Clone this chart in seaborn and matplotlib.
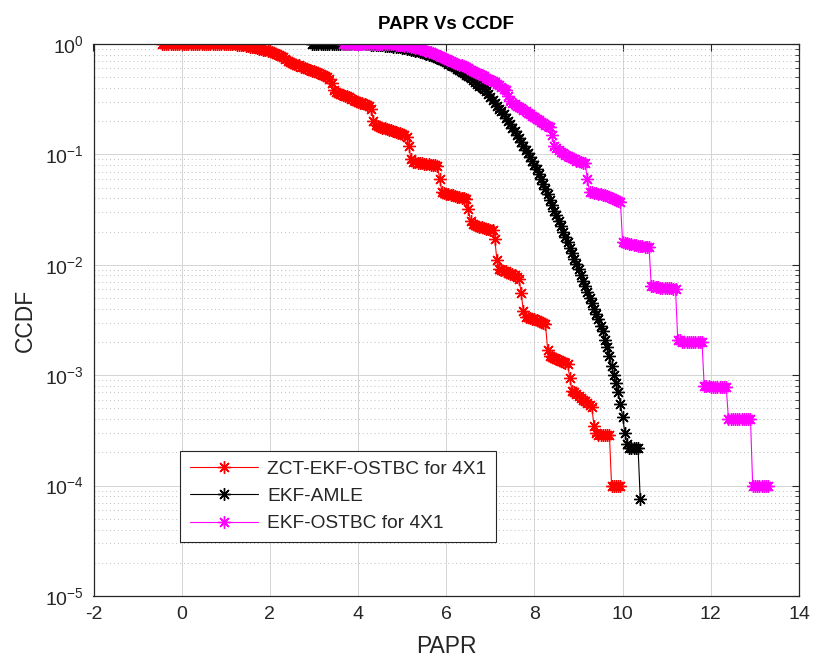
import matplotlib
matplotlib.use("Agg")
import matplotlib.pyplot as plt
import pandas as pd
import seaborn as sns
from matplotlib.ticker import LogLocator, NullFormatter, FixedLocator
from matplotlib.lines import Line2D

# ---------------- data ----------------
series_labels = ["ZCT-EKF-OSTBC for 4X1", "EKF-AMLE", "EKF-OSTBC for 4X1"]
series_colors = ["#FF0000", "#000000", "#FF00FF"]

zct_papr = [-0.45, -0.40, -0.35, -0.30, -0.25, -0.20, -0.15, -0.10, -0.05, 0.00,
            0.05, 0.10, 0.15, 0.20, 0.25, 0.30, 0.35, 0.40, 0.45, 0.50,
            0.55, 0.60, 0.65, 0.70, 0.75, 0.80, 0.85, 0.90, 0.95, 1.00,
            1.05, 1.10, 1.15, 1.20, 1.25, 1.30, 1.35, 1.40, 1.45, 1.50,
            1.55, 1.60, 1.65, 1.70, 1.75, 1.80, 1.85, 1.90, 1.95, 2.00,
            2.05, 2.10, 2.15, 2.20, 2.25, 2.30, 2.35, 2.40, 2.45, 2.50,
            2.55, 2.60, 2.65, 2.70, 2.75, 2.80, 2.85, 2.90, 2.95, 3.00,
            3.05, 3.10, 3.15, 3.20, 3.25, 3.30, 3.35, 3.40, 3.45, 3.50,
            3.55, 3.60, 3.65, 3.70, 3.75, 3.80, 3.85, 3.90, 3.95, 4.00,
            4.05, 4.10, 4.15, 4.20, 4.25, 4.30, 4.35, 4.40, 4.45, 4.50,
            4.55, 4.60, 4.65, 4.70, 4.75, 4.80, 4.85, 4.90, 4.95, 5.00,
            5.05, 5.10, 5.15, 5.20, 5.25, 5.30, 5.35, 5.40, 5.45, 5.50,
            5.55, 5.60, 5.65, 5.70, 5.75, 5.80, 5.85, 5.90, 5.95, 6.00,
            6.05, 6.10, 6.15, 6.20, 6.25, 6.30, 6.35, 6.40, 6.45, 6.50,
            6.55, 6.60, 6.65, 6.70, 6.75, 6.80, 6.85, 6.90, 6.95, 7.00,
            7.05, 7.10, 7.15, 7.20, 7.25, 7.30, 7.35, 7.40, 7.45, 7.50,
            7.55, 7.60, 7.65, 7.70, 7.75, 7.80, 7.85, 7.90, 7.95, 8.00,
            8.05, 8.10, 8.15, 8.20, 8.25, 8.30, 8.35, 8.40, 8.45, 8.50,
            8.55, 8.60, 8.65, 8.70, 8.75, 8.80, 8.85, 8.90, 8.95, 9.00,
            9.05, 9.10, 9.15, 9.20, 9.25, 9.30, 9.35, 9.40, 9.45, 9.50,
            9.55, 9.60, 9.65, 9.70, 9.75, 9.80, 9.85, 9.90, 9.95]
zct_ccdf = [1, 1, 1, 1, 1, 1, 1, 1, 1, 1,
            1, 1, 1, 1, 1, 1, 1, 1, 1, 1,
            1, 1, 1, 1, 1, 1, 1, 1, 1, 1,
            1.0, 0.997, 0.994, 0.99, 0.985, 0.98, 0.975, 0.97, 0.963, 0.955,
            0.948, 0.94, 0.93, 0.92, 0.91, 0.90, 0.89, 0.88, 0.87, 0.86,
            0.845, 0.83, 0.81, 0.79, 0.775, 0.76, 0.73, 0.70, 0.68, 0.67,
            0.66, 0.65, 0.64, 0.625, 0.615, 0.605, 0.595, 0.585, 0.575, 0.565,
            0.555, 0.545, 0.535, 0.525, 0.515, 0.50, 0.48, 0.44, 0.38, 0.365,
            0.36, 0.35, 0.345, 0.34, 0.335, 0.33, 0.32, 0.31, 0.305, 0.30,
            0.295, 0.29, 0.285, 0.28, 0.275, 0.26, 0.2, 0.185, 0.18, 0.178,
            0.175, 0.172, 0.17, 0.168, 0.165, 0.162, 0.16, 0.157, 0.155, 0.152,
            0.15, 0.145, 0.12, 0.09, 0.085, 0.0845, 0.084, 0.0835, 0.083, 0.0825,
            0.082, 0.0815, 0.081, 0.0805, 0.08, 0.079, 0.06, 0.046, 0.0445, 0.044,
            0.0435, 0.043, 0.0425, 0.042, 0.0415, 0.041, 0.0405, 0.04, 0.0395, 0.032,
            0.025, 0.0235, 0.023, 0.0225, 0.022, 0.0218, 0.0215, 0.0212, 0.021, 0.0208,
            0.0205, 0.017, 0.011, 0.0092, 0.009, 0.0088, 0.0087, 0.0085, 0.0083, 0.0082,
            0.008, 0.0078, 0.0075, 0.0055, 0.0038, 0.0034, 0.00335, 0.0033, 0.00325, 0.0032,
            0.00315, 0.0031, 0.00305, 0.003, 0.0029, 0.0017, 0.00148, 0.00145, 0.00142, 0.0014,
            0.00138, 0.00135, 0.00132, 0.0013, 0.00127, 0.00095, 0.00072, 0.0007, 0.00068, 0.00065,
            0.00062, 0.0006, 0.00058, 0.00056, 0.00054, 0.00052, 0.00035, 0.0003, 0.00029, 0.00029,
            0.00029, 0.00029, 0.00029, 0.00029, 0.0001, 0.0001, 0.0001, 0.0001, 0.0001]

amle_papr = [2.95, 3.00, 3.05, 3.10, 3.15, 3.20, 3.25, 3.30, 3.35, 3.40,
             3.45, 3.50, 3.55, 3.60, 3.65, 3.70, 3.75, 3.80, 3.85, 3.90,
             3.95, 4.00, 4.05, 4.10, 4.15, 4.20, 4.25, 4.30, 4.35, 4.40,
             4.45, 4.50, 4.55, 4.60, 4.65, 4.70, 4.75, 4.80, 4.85, 4.90,
             4.95, 5.00, 5.05, 5.10, 5.15, 5.20, 5.25, 5.30, 5.35, 5.40,
             5.45, 5.50, 5.55, 5.60, 5.65, 5.70, 5.75, 5.80, 5.85, 5.90,
             5.95, 6.00, 6.05, 6.10, 6.15, 6.20, 6.25, 6.30, 6.35, 6.40,
             6.45, 6.50, 6.55, 6.60, 6.65, 6.70, 6.75, 6.80, 6.85, 6.90,
             6.95, 7.00, 7.05, 7.10, 7.15, 7.20, 7.25, 7.30, 7.35, 7.40,
             7.45, 7.50, 7.55, 7.60, 7.65, 7.70, 7.75, 7.80, 7.85, 7.90,
             7.95, 8.00, 8.05, 8.10, 8.15, 8.20, 8.25, 8.30, 8.35, 8.40,
             8.45, 8.50, 8.55, 8.60, 8.65, 8.70, 8.75, 8.80, 8.85, 8.90,
             8.95, 9.00, 9.05, 9.10, 9.15, 9.20, 9.25, 9.30, 9.35, 9.40,
             9.45, 9.50, 9.55, 9.60, 9.65, 9.70, 9.75, 9.80, 9.85, 9.90,
             9.95, 10.00, 10.05, 10.10, 10.15, 10.20, 10.25, 10.30, 10.35, 10.40]
amle_ccdf = [1, 1, 1, 1, 1, 1, 1, 1, 1, 1,
             1, 1, 1, 1, 1, 1, 1, 1, 1, 1,
             0.999, 0.998, 0.997, 0.996, 0.995, 0.993, 0.991, 0.989, 0.986, 0.983,
             0.98, 0.977, 0.973, 0.969, 0.965, 0.96, 0.955, 0.949, 0.943, 0.936,
             0.93, 0.922, 0.915, 0.907, 0.9, 0.89, 0.88, 0.87, 0.86, 0.85,
             0.84, 0.825, 0.81, 0.8, 0.79, 0.775, 0.76, 0.745, 0.73, 0.715,
             0.7, 0.683, 0.665, 0.648, 0.63, 0.613, 0.595, 0.578, 0.56, 0.543,
             0.525, 0.508, 0.49, 0.472, 0.455, 0.437, 0.42, 0.405, 0.39, 0.375,
             0.35, 0.33, 0.31, 0.29, 0.275, 0.26, 0.245, 0.23, 0.215, 0.2,
             0.19, 0.175, 0.162, 0.15, 0.14, 0.13, 0.12, 0.11, 0.103, 0.095,
             0.088, 0.08, 0.073, 0.066, 0.06, 0.054, 0.049, 0.044, 0.039, 0.035,
             0.031, 0.028, 0.025, 0.0225, 0.02, 0.018, 0.016, 0.0143, 0.0128, 0.0114,
             0.0102, 0.0091, 0.0081, 0.0072, 0.0064, 0.0057, 0.005, 0.0045, 0.004, 0.0036,
             0.0032, 0.0028, 0.0025, 0.0021, 0.0018, 0.0015, 0.0012, 0.001, 0.00085, 0.0007,
             0.00055, 0.00042, 0.0003, 0.00024, 0.00022, 0.00022, 0.00022, 0.00022, 0.00022, 0.000075]

ostbc_papr = [3.65, 3.70, 3.75, 3.80, 3.85, 3.90, 3.95, 4.00, 4.05, 4.10,
              4.15, 4.20, 4.25, 4.30, 4.35, 4.40, 4.45, 4.50, 4.55, 4.60,
              4.65, 4.70, 4.75, 4.80, 4.85, 4.90, 4.95, 5.00, 5.05, 5.10,
              5.15, 5.20, 5.25, 5.30, 5.35, 5.40, 5.45, 5.50, 5.55, 5.60,
              5.65, 5.70, 5.75, 5.80, 5.85, 5.90, 5.95, 6.00, 6.05, 6.10,
              6.15, 6.20, 6.25, 6.30, 6.35, 6.40, 6.45, 6.50, 6.55, 6.60,
              6.65, 6.70, 6.75, 6.80, 6.85, 6.90, 6.95, 7.00, 7.05, 7.10,
              7.15, 7.20, 7.25, 7.30, 7.35, 7.40, 7.45, 7.50, 7.55, 7.60,
              7.65, 7.70, 7.75, 7.80, 7.85, 7.90, 7.95, 8.00, 8.05, 8.10,
              8.15, 8.20, 8.25, 8.30, 8.35, 8.40, 8.45, 8.50, 8.55, 8.60,
              8.65, 8.70, 8.75, 8.80, 8.85, 8.90, 8.95, 9.00, 9.05, 9.10,
              9.15, 9.20, 9.25, 9.30, 9.35, 9.40, 9.45, 9.50, 9.55, 9.60,
              9.65, 9.70, 9.75, 9.80, 9.85, 9.90, 9.95, 10.00, 10.05, 10.10,
              10.15, 10.20, 10.25, 10.30, 10.35, 10.40, 10.45, 10.50, 10.55, 10.60,
              10.65, 10.70, 10.75, 10.80, 10.85, 10.90, 10.95, 11.00, 11.05, 11.10,
              11.15, 11.20, 11.25, 11.30, 11.35, 11.40, 11.45, 11.50, 11.55, 11.60,
              11.65, 11.70, 11.75, 11.80, 11.85, 11.90, 11.95, 12.00, 12.05, 12.10,
              12.15, 12.20, 12.25, 12.30, 12.35, 12.40, 12.45, 12.50, 12.55, 12.60,
              12.65, 12.70, 12.75, 12.80, 12.85, 12.90, 12.95, 13.00, 13.05, 13.10,
              13.15, 13.20, 13.25, 13.30]
ostbc_ccdf = [1, 1, 1, 1, 1, 1, 1, 1, 1, 1,
              1, 1, 1, 1, 1, 1, 1, 1, 1, 1,
              0.998, 0.996, 0.994, 0.991, 0.988, 0.984, 0.98, 0.975, 0.968, 0.96,
              0.952, 0.944, 0.935, 0.925, 0.915, 0.904, 0.892, 0.88, 0.866, 0.852,
              0.838, 0.823, 0.808, 0.793, 0.778, 0.762, 0.747, 0.732, 0.717, 0.702,
              0.69, 0.678, 0.665, 0.652, 0.64, 0.627, 0.613, 0.6, 0.587, 0.575,
              0.562, 0.55, 0.536, 0.522, 0.509, 0.497, 0.485, 0.473, 0.461, 0.449,
              0.436, 0.422, 0.408, 0.395, 0.383, 0.34, 0.305, 0.295, 0.285, 0.277,
              0.27, 0.262, 0.254, 0.246, 0.238, 0.231, 0.224, 0.217, 0.21, 0.204,
              0.198, 0.192, 0.186, 0.181, 0.176, 0.15, 0.12, 0.114, 0.109, 0.105,
              0.102, 0.099, 0.096, 0.094, 0.092, 0.09, 0.088, 0.087, 0.085, 0.084,
              0.083, 0.06, 0.046, 0.0455, 0.045, 0.0445, 0.044, 0.0435, 0.043, 0.0425,
              0.042, 0.041, 0.0405, 0.0398, 0.039, 0.038, 0.037, 0.016, 0.0158, 0.0156,
              0.0155, 0.0153, 0.0152, 0.015, 0.0149, 0.0148, 0.0147, 0.0146, 0.0145, 0.0144,
              0.0064, 0.0064, 0.0063, 0.0063, 0.0062, 0.0062, 0.0062, 0.0061, 0.0061, 0.0061,
              0.006, 0.006, 0.0021, 0.0021, 0.002, 0.002, 0.002, 0.002, 0.002, 0.002,
              0.002, 0.002, 0.002, 0.002, 0.0008, 0.0008, 0.0008, 0.00079, 0.00079, 0.00079,
              0.00079, 0.00078, 0.00078, 0.00078, 0.00078, 0.0004, 0.0004, 0.0004, 0.0004, 0.0004,
              0.0004, 0.0004, 0.0004, 0.0004, 0.0004, 0.0004, 0.0001, 0.0001, 0.0001, 0.0001,
              0.0001, 0.0001, 0.0001, 0.0001]

x_ticks = [-2, 0, 2, 4, 6, 8, 10, 12, 14]
y_ticks = [1e-5, 1e-4, 1e-3, 1e-2, 1e-1, 1e0]

# ---------------- build table ----------------
frames = []
for lab, xs, ys in zip(series_labels,
                       [zct_papr, amle_papr, ostbc_papr],
                       [zct_ccdf, amle_ccdf, ostbc_ccdf]):
    frames.append(pd.DataFrame({"PAPR": xs, "CCDF": ys, "Scheme": lab}))
df = pd.concat(frames, ignore_index=True)

# ---------------- style ----------------
sns.set_theme(style="white")
plt.rcParams["font.family"] = ["Liberation Sans", "DejaVu Sans"]
plt.rcParams["mathtext.fontset"] = "custom"
plt.rcParams["mathtext.rm"] = "Liberation Sans"
plt.rcParams["mathtext.it"] = "Liberation Sans"
plt.rcParams["mathtext.bf"] = "Liberation Sans:bold"
plt.rcParams["axes.unicode_minus"] = False

W, H = 816, 664
fig = plt.figure(figsize=(W / 100, H / 100), dpi=100)
L, R, T, B = 93.5, 799, 44, 596
ax = fig.add_axes([L / W, 1 - B / H, (R - L) / W, (B - T) / H])

palette = dict(zip(series_labels, series_colors))
asterisk = (8, 2, 0)
sns.lineplot(data=df, x="PAPR", y="CCDF", hue="Scheme", hue_order=series_labels,
             palette=palette, estimator=None, sort=False, marker=asterisk,
             markersize=9, linewidth=0.8, legend=False, ax=ax)

for line in ax.get_lines():
    c = line.get_color()
    line.set_markeredgecolor(c)
    line.set_markerfacecolor(c)
    line.set_markeredgewidth(1.0)

ax.set_yscale("log")
ax.set_xlim(-2, 14)
ax.set_ylim(1e-5, 1)
ax.xaxis.set_major_locator(FixedLocator(x_ticks))
ax.yaxis.set_major_locator(FixedLocator(y_ticks))
ax.yaxis.set_minor_locator(LogLocator(base=10, subs=range(2, 10)))
ax.yaxis.set_minor_formatter(NullFormatter())

ax.grid(True, which="major", axis="both", color="#d4d4d4", linewidth=0.7, linestyle="-")
ax.grid(True, which="minor", axis="y", color="#bdbdbd", linewidth=0.7, linestyle=(0, (1, 3)))
ax.set_axisbelow(True)

for s in ax.spines.values():
    s.set_visible(True)
    s.set_color("#262626")
    s.set_linewidth(0.9)

ax.tick_params(which="both", direction="in", top=True, right=True, colors="#262626",
               labelcolor="#262626")
ax.tick_params(which="major", length=5, width=0.8, labelsize=14, pad=7)
ax.tick_params(which="minor", length=3, width=0.6)

ax.set_xlabel("PAPR", fontsize=16.5, color="#262626", labelpad=9)
ax.set_ylabel("CCDF", fontsize=16.5, color="#262626", labelpad=6)
ax.set_title("PAPR Vs CCDF", fontsize=13.5, fontweight="bold", color="#000000", pad=11)

handles = [Line2D([0], [0], color=c, linewidth=0.8, marker=asterisk, markersize=9,
                  markeredgecolor=c, markeredgewidth=1.0) for c in series_colors]
leg = ax.legend(handles, series_labels, loc="lower left",
                bbox_to_anchor=((180 - L) / (R - L), (B - 542) / (B - T)),
                borderaxespad=0, fontsize=13.75, handlelength=3.6, numpoints=1,
                frameon=True, fancybox=False, edgecolor="#262626", framealpha=1,
                labelspacing=0.52, borderpad=0.5, handletextpad=0.45)
leg.get_frame().set_linewidth(0.8)

fig.savefig("out.png", dpi=100)
